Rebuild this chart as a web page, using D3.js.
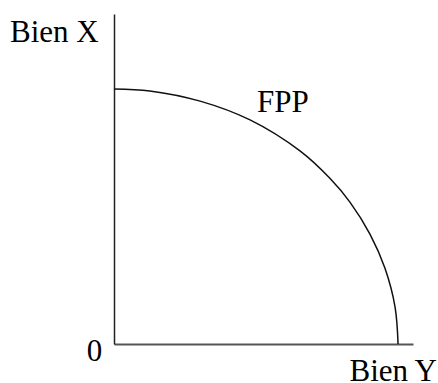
<!DOCTYPE html>
<html>
<head>
<meta charset="utf-8">
<script src="https://cdn.jsdelivr.net/npm/d3@7"></script>
<style>
  html, body { margin: 0; padding: 0; background: #fff; }
  svg { display: block; }
  text { font-family: "Liberation Serif", "Times New Roman", serif; fill: #000; }
</style>
</head>
<body>
<svg id="chart" width="438" height="383"></svg>
<script>
// Data (Bien Y on horizontal axis, Bien X on vertical axis)
const fppBienY = [0, 12, 28.8, 45.5, 62.2, 72.2, 78.9, 85.6, 90.6, 94, 95];
const fppBienX = [77.3, 76.7, 73.6, 67.9, 58.5, 50.2, 43, 33.3, 23, 11.2, 0];
const axisLabelX = "Bien Y";
const axisLabelY = "Bien X";
const originLabel = "0";
const curveLabel = "FPP";

const svg = d3.select("#chart");
const x = d3.scaleLinear().domain([0, 100]).range([114, 413]);
const y = d3.scaleLinear().domain([0, 100]).range([344, 14]);

// Axes with no ticks
const gx = svg.append("g").attr("transform", `translate(0,${y(0)})`)
  .call(d3.axisBottom(x).tickValues([]).tickSizeOuter(0));
gx.select(".domain").attr("stroke", "#555").attr("stroke-width", 2);

const gy = svg.append("g").attr("transform", `translate(${x(0)},0)`)
  .call(d3.axisLeft(y).tickValues([]).tickSizeOuter(0));
gy.select(".domain").attr("stroke", "#222").attr("stroke-width", 1.5);

// FPP curve
const pts = fppBienY.map((v, i) => [v, fppBienX[i]]);
const line = d3.line().x(d => x(d[0])).y(d => y(d[1])).curve(d3.curveCatmullRom.alpha(0.5));
svg.append("path").datum(pts)
  .attr("d", line)
  .attr("fill", "none")
  .attr("stroke", "#111")
  .attr("stroke-width", 1.5);

// Labels
svg.append("text").attr("x", 10).attr("y", 42).attr("font-size", 31).text(axisLabelY);
svg.append("text").attr("x", 437).attr("y", 381).attr("text-anchor", "end").attr("font-size", 31).text(axisLabelX);
svg.append("text").attr("x", 94.5).attr("y", 361).attr("text-anchor", "middle").attr("font-size", 31).text(originLabel);
svg.append("text").attr("x", 257).attr("y", 112).attr("font-size", 31).text(curveLabel);
</script>
</body>
</html>
